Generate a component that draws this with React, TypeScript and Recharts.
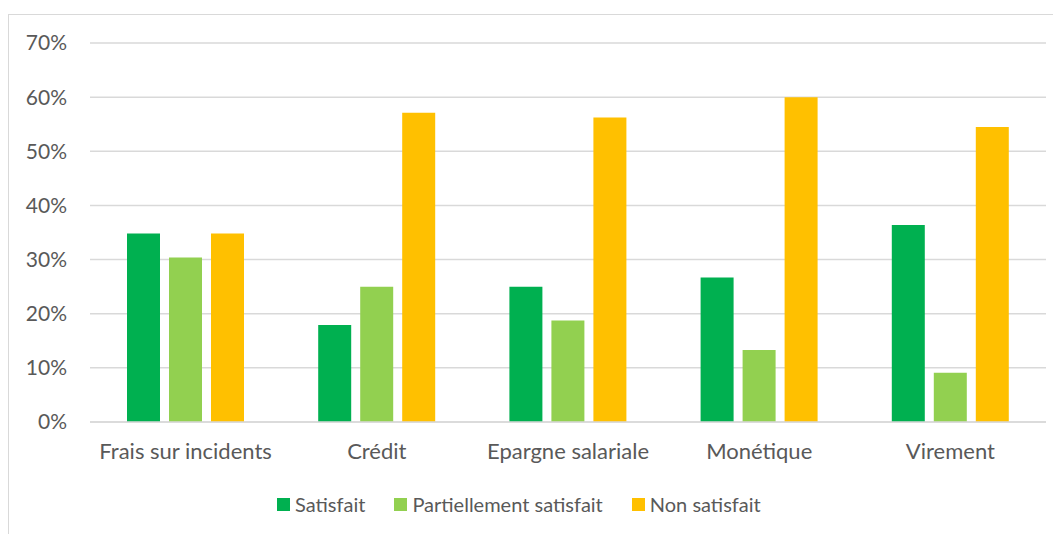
import { BarChart, Bar, XAxis, YAxis, CartesianGrid, Legend } from 'recharts'

// Satisfaction par thème (valeurs en %)
const categories = ['Frais sur incidents', 'Crédit', 'Epargne salariale', 'Monétique', 'Virement']
const satisfait = [34.8, 17.9, 25, 26.7, 36.4]
const partiellement = [30.4, 25, 18.75, 13.3, 9.1]
const nonSatisfait = [34.8, 57.1, 56.25, 60, 54.5]
const yTicks = [0, 10, 20, 30, 40, 50, 60, 70]

const series = [
    { key: 'satisfait', name: 'Satisfait', color: '#00B050' },
    { key: 'partiellement', name: 'Partiellement satisfait', color: '#92D050' },
    { key: 'nonSatisfait', name: 'Non satisfait', color: '#FFC000' },
]

const data = categories.map((c, i) => ({
    cat: c,
    satisfait: satisfait[i],
    partiellement: partiellement[i],
    nonSatisfait: nonSatisfait[i],
}))

const FONT = 'Lato, "Open Sans", sans-serif'
const TEXT = '#595959'

function LegendContent() {
    return (
        <div style={{ display: 'flex', justifyContent: 'flex-start', paddingLeft: 268, fontFamily: FONT, fontSize: 20, lineHeight: '24px', color: TEXT }}>
            {series.map((s, i) => (
                <div key={s.key} style={{ display: 'flex', alignItems: 'center', marginRight: i < 2 ? 29 : 0 }}>
                    <span style={{ display: 'inline-block', width: 13, height: 13, background: s.color, marginRight: 5 }} />
                    <span>{s.name}</span>
                </div>
            ))}
        </div>
    )
}

export default function App() {
    return (
        <div style={{ marginTop: 6, width: 1053, height: 520, borderTop: '1px solid #d9d9d9', borderLeft: '1px solid #d9d9d9', background: '#fff' }}>
            <BarChart
                width={1052}
                height={519}
                data={data}
                margin={{ top: 28, right: 15, left: 0, bottom: 28 }}
                barSize={33}
                barGap={9}
            >
                <CartesianGrid vertical={false} stroke="#d9d9d9" strokeWidth={1.5} />
                <XAxis
                    dataKey="cat"
                    tick={{ fill: TEXT, fontSize: 22, fontFamily: FONT }}
                    axisLine={{ stroke: '#d9d9d9', strokeWidth: 1.5 }}
                    tickLine={false}
                    tickMargin={15}
                    height={60}
                    interval={0}
                />
                <YAxis
                    domain={[0, 70]}
                    ticks={yTicks}
                    tickFormatter={(v: number) => `${v}%`}
                    tick={{ fill: TEXT, fontSize: 21, fontFamily: FONT }}
                    axisLine={false}
                    tickLine={false}
                    tickSize={0}
                    tickMargin={23}
                    width={81}
                />
                <Legend verticalAlign="bottom" content={<LegendContent />} wrapperStyle={{ bottom: 18 }} />
                {series.map((s) => (
                    <Bar key={s.key} dataKey={s.key} name={s.name} fill={s.color} isAnimationActive={false} />
                ))}
            </BarChart>
        </div>
    )
}
